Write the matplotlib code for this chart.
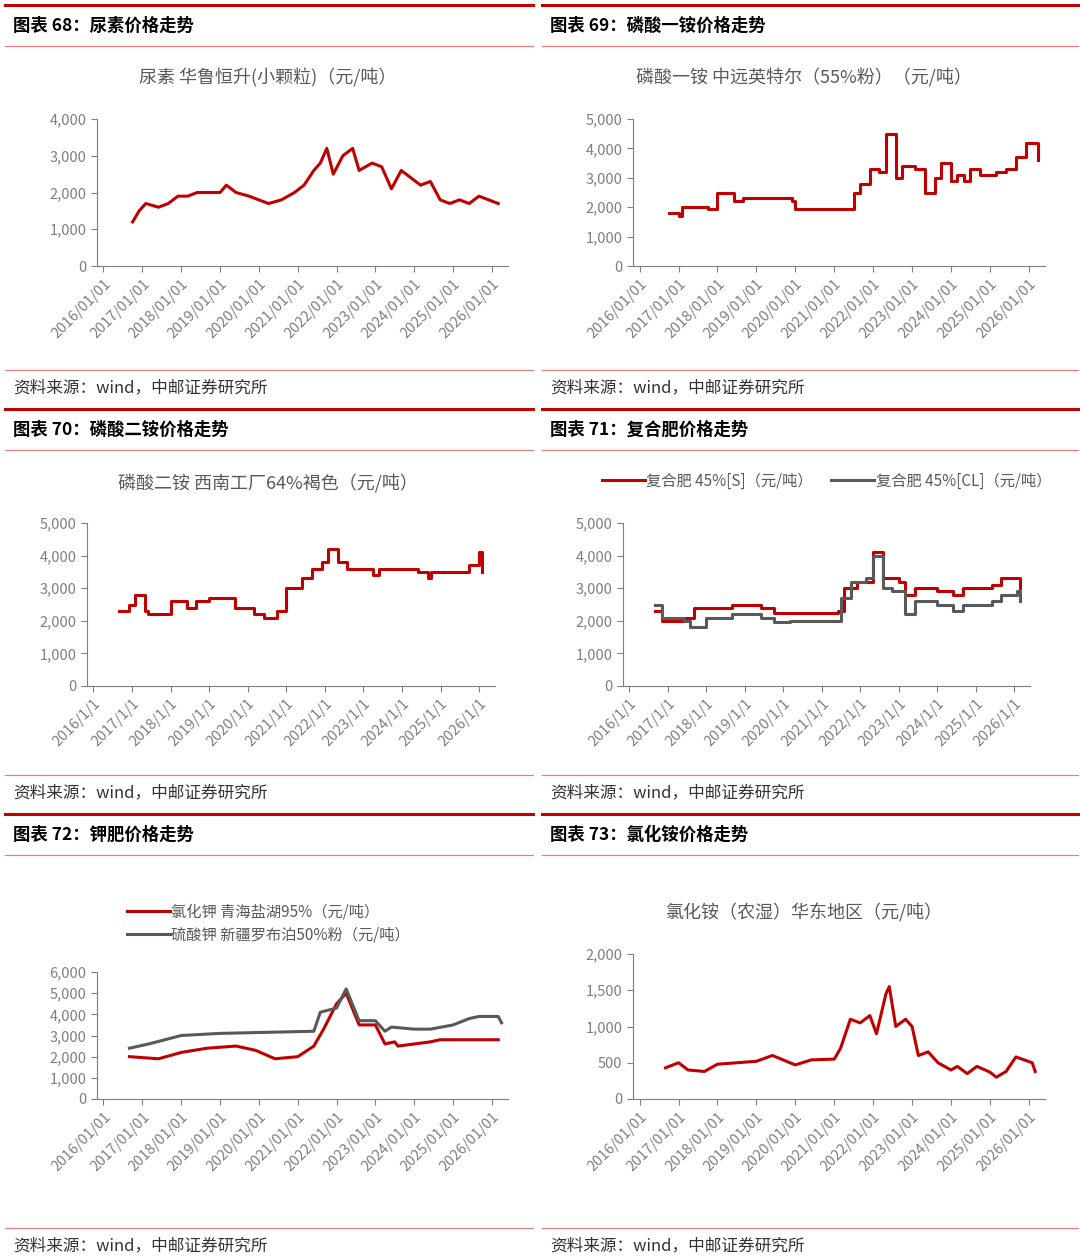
import matplotlib
matplotlib.use("Agg")
import matplotlib.pyplot as plt
import pandas as pd

plt.rcParams['font.family'] = ['Noto Sans CJK SC', 'DejaVu Sans']

RED = "#C00000"
GREY = "#595959"
TXT = "#595959"

# -----------------------------
# data (key points)
# -----------------------------
urea_d = ["2016-10","2016-12","2017-02","2017-06","2017-09","2017-12","2018-03","2018-06","2019-01","2019-03",
          "2019-06","2019-10","2020-04","2020-08","2020-12","2021-03","2021-06","2021-08","2021-10","2021-12",
          "2022-03","2022-06","2022-08","2022-12","2023-03","2023-06","2023-09","2023-12","2024-03","2024-06",
          "2024-09","2024-12","2025-03","2025-06","2025-09","2025-12","2026-03"]
urea_v = [1200,1500,1700,1600,1700,1900,1900,2000,2000,2200,2000,1900,1700,1800,2000,2200,2600,2800,3200,2500,
          3000,3200,2600,2800,2700,2100,2600,2400,2200,2300,1800,1700,1800,1700,1900,1800,1700]

map_d = ["2016-10","2017-01","2017-02","2017-10","2018-01","2018-06","2018-09","2019-06","2019-12","2020-01",
         "2021-06","2021-07","2021-09","2021-12","2022-03","2022-05","2022-07","2022-08","2022-10","2023-02",
         "2023-05","2023-08","2023-10","2024-01","2024-03","2024-05","2024-07","2024-10","2025-03","2025-06",
         "2025-09","2025-12","2026-03","2026-04"]
map_v = [1800,1700,2000,1950,2500,2200,2300,2300,2200,1950,1950,2500,2800,3300,3200,4500,4500,3000,3400,3300,
         2500,3000,3500,2900,3100,2900,3300,3100,3200,3300,3700,4200,4200,3600]

dap_d = ["2016-09","2016-12","2017-02","2017-05","2017-06","2018-01","2018-06","2018-09","2019-01","2019-09",
         "2020-03","2020-06","2020-10","2021-01","2021-06","2021-09","2021-12","2022-02","2022-05","2022-08",
         "2023-01","2023-04","2023-06","2024-01","2024-06","2024-09","2024-10","2025-06","2025-10","2026-01","2026-02"]
dap_v = [2300,2500,2800,2300,2200,2600,2400,2600,2700,2400,2200,2100,2300,3000,3300,3600,3800,4200,3800,3600,
         3600,3400,3600,3600,3500,3300,3500,3500,3700,4100,3500]

npk_s_d = ["2016-09","2016-11","2017-06","2017-09","2018-09","2019-06","2019-10","2021-06","2021-08","2021-12",
           "2022-05","2022-08","2023-01","2023-03","2023-06","2024-01","2024-06","2024-09","2025-06","2025-09",
           "2026-02","2026-03"]
npk_s_v = [2300,2000,2100,2400,2500,2400,2250,2300,3000,3200,4100,3300,3200,2800,3000,2900,2800,3000,3100,3300,
           3300,3000]
npk_cl_d = ["2016-09","2016-11","2017-06","2017-08","2018-01","2018-09","2019-03","2019-06","2019-10","2020-03",
            "2021-06","2021-07","2021-10","2022-03","2022-05","2022-08","2022-11","2023-03","2023-06","2024-01",
            "2024-06","2024-09","2025-06","2025-09","2026-02","2026-03"]
npk_cl_v = [2500,2100,2000,1800,2100,2200,2200,2100,1950,2000,2000,2700,3200,3300,4000,3000,2900,2200,2600,2500,
            2300,2500,2600,2800,2900,2600]

kcl_d = ["2016-09","2017-06","2018-01","2018-09","2019-06","2019-12","2020-06","2021-01","2021-06","2021-09",
         "2022-01","2022-04","2022-08","2023-01","2023-04","2023-07","2023-08","2024-01","2024-06","2024-09","2026-03"]
kcl_v = [2000,1900,2200,2400,2500,2300,1900,2000,2500,3300,4500,5000,3500,3500,2600,2700,2500,2600,2700,2800,2800]
k2so4_d = ["2016-09","2017-03","2018-01","2019-01","2021-06","2021-08","2022-01","2022-04","2022-08","2023-01",
           "2023-04","2023-06","2024-01","2024-06","2025-01","2025-06","2025-09","2026-03","2026-04"]
k2so4_v = [2400,2600,3000,3100,3200,4100,4300,5200,3700,3700,3200,3400,3300,3300,3500,3800,3900,3900,3600]

nh4cl_d = ["2016-09","2017-01","2017-04","2017-09","2018-01","2019-01","2019-06","2020-01","2020-06","2021-01",
           "2021-03","2021-06","2021-09","2021-12","2022-02","2022-05","2022-06","2022-08","2022-11","2023-01",
           "2023-03","2023-06","2023-09","2024-01","2024-03","2024-06","2024-09","2025-01","2025-03","2025-06",
           "2025-09","2026-02","2026-03"]
nh4cl_v = [430,500,400,380,480,520,600,470,540,550,700,1100,1050,1150,900,1450,1550,1000,1100,1000,
           600,650,500,400,450,350,450,370,300,380,580,500,380]

W, H = 1080, 1260
fig = plt.figure(figsize=(W / 100, H / 100), dpi=100)


def px_axes(x0, y0, x1, y1):
    return fig.add_axes([x0 / W, 1 - y1 / H, (x1 - x0) / W, (y1 - y0) / H])


def hline(x0, x1, y, color, lw):
    fig.add_artist(plt.Line2D([x0 / W, x1 / W], [1 - y / H, 1 - y / H], color=color, lw=lw))


def ftext(x, y, s, **kw):
    fig.text(x / W, 1 - y / H, s, va="center", **kw)


def setup(ax, ymax, step, fmt):
    years = pd.date_range("2016-01-01", "2026-01-01", freq="YS")
    ax.set_xlim(pd.Timestamp("2015-11-01"), pd.Timestamp("2026-06-01"))
    ax.set_xticks(years)
    ax.set_xticklabels([d.strftime(fmt) for d in years],
                       rotation=45, ha="right", rotation_mode="anchor", fontsize=10.5, color=TXT)
    ax.set_ylim(0, ymax)
    ticks = list(range(0, ymax + 1, step))
    ax.set_yticks(ticks)
    ax.set_yticklabels([f"{t:,}" for t in ticks], fontsize=10.5, color=TXT)
    for s in ["top", "right"]:
        ax.spines[s].set_visible(False)
    for s in ["left", "bottom"]:
        ax.spines[s].set_color("#7f7f7f")
    ax.tick_params(colors="#7f7f7f", length=4, direction="out")


def dt(d):
    return pd.to_datetime(d)


# -----------------------------
# frame: headers and sources
# -----------------------------
titles = [("图表 68：尿素价格走势", "图表 69：磷酸一铵价格走势"),
          ("图表 70：磷酸二铵价格走势", "图表 71：复合肥价格走势"),
          ("图表 72：钾肥价格走势", "图表 73：氯化铵价格走势")]
tops = [5, 409, 814]
srcs = [388, 793, 1246]
for (lt, rt), top, sy in zip(titles, tops, srcs):
    for x0, x1, t in [(5, 533, lt), (542, 1078, rt)]:
        hline(x0, x1, top, RED, 2.2)
        hline(x0, x1, top + 41, "#E08080", 0.9)
        ftext(x0 + 8, top + 21, t, fontsize=12.5, fontweight="bold", color="black")
        hline(x0, x1, sy - 18, "#E08080", 0.9)
        ftext(x0 + 8, sy, "资料来源：wind，中邮证券研究所", fontsize=12, color="#333333")

fmt1 = "%Y/%m/%d"
fmt2 = "%Y/1/1"
LW = 2.2

# 68
ax = px_axes(97, 119, 508, 266)
ax.plot(dt(urea_d), urea_v, color=RED, lw=LW)
setup(ax, 4000, 1000, fmt1)
ftext(268, 78, "尿素 华鲁恒升(小颗粒)（元/吨）", fontsize=13, color=TXT, ha="center")

# 69
ax = px_axes(633, 119, 1045, 266)
ax.plot(dt(map_d), map_v, color=RED, lw=LW, drawstyle="steps-post")
setup(ax, 5000, 1000, fmt1)
ftext(804, 78, "磷酸一铵 中远英特尔（55%粉）（元/吨）", fontsize=13, color=TXT, ha="center")

# 70
ax = px_axes(87, 523, 495, 686)
ax.plot(dt(dap_d), dap_v, color=RED, lw=LW, drawstyle="steps-post")
setup(ax, 5000, 1000, fmt2)
ftext(268, 483, "磷酸二铵 西南工厂64%褐色（元/吨）", fontsize=13, color=TXT, ha="center")

# 71
ax = px_axes(623, 523, 1030, 686)
ax.plot(dt(npk_s_d), npk_s_v, color=RED, lw=LW, drawstyle="steps-post", label="复合肥 45%[S]（元/吨）")
ax.plot(dt(npk_cl_d), npk_cl_v, color=GREY, lw=LW, drawstyle="steps-post", label="复合肥 45%[CL]（元/吨）")
setup(ax, 5000, 1000, fmt2)
ax.legend(loc="lower center", bbox_to_anchor=(0.5, 1.12), ncol=2, frameon=False, fontsize=11,
          labelcolor=TXT, handlelength=2.8, handletextpad=0.1, columnspacing=1.2)

# 72
ax = px_axes(97, 972, 508, 1099)
ax.plot(dt(kcl_d), kcl_v, color=RED, lw=LW, label="氯化钾 青海盐湖95%（元/吨）")
ax.plot(dt(k2so4_d), k2so4_v, color=GREY, lw=LW, label="硫酸钾 新疆罗布泊50%粉（元/吨）")
setup(ax, 6000, 1000, fmt1)
ax.legend(loc="lower left", bbox_to_anchor=(0.04, 1.12), ncol=1, frameon=False, fontsize=11,
          labelcolor=TXT, handlelength=2.8, handletextpad=0.1, labelspacing=0.35)

# 73
ax = px_axes(633, 954, 1045, 1099)
ax.plot(dt(nh4cl_d), nh4cl_v, color=RED, lw=LW)
setup(ax, 2000, 500, fmt1)
ftext(804, 913, "氯化铵（农湿）华东地区（元/吨）", fontsize=13, color=TXT, ha="center")

fig.savefig("out.png", dpi=100, facecolor="white")
